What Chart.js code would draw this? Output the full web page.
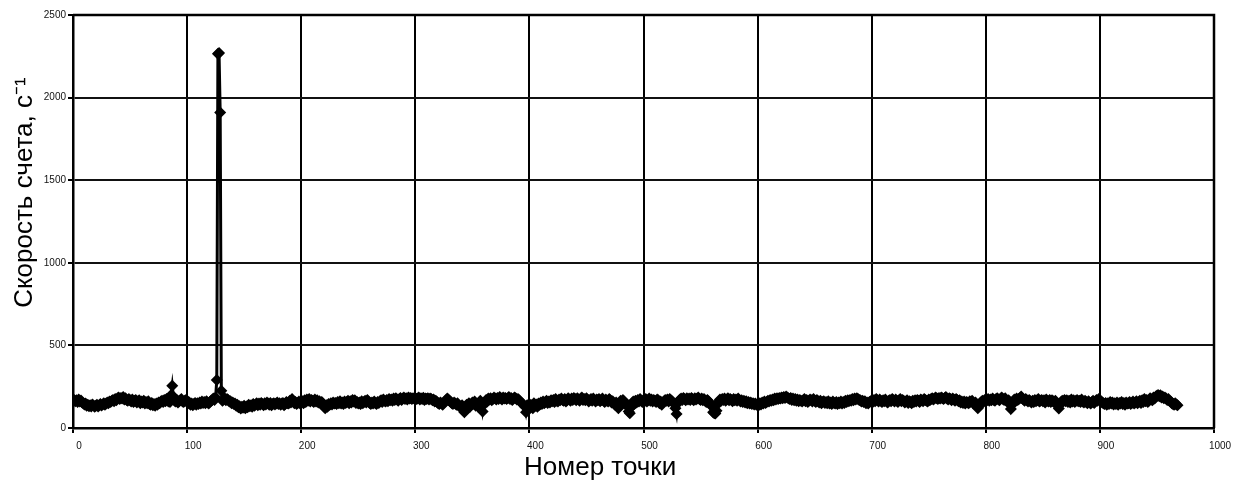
<!DOCTYPE html>
<html>
<head>
<meta charset="utf-8">
<script src="https://cdn.jsdelivr.net/npm/chart.js@4.4.1/dist/chart.umd.min.js"></script>
<style>
  html, body { margin: 0; padding: 0; background: #fff; }
  #wrap { width: 1249px; height: 488px; }
</style>
</head>
<body>
<div id="wrap"><canvas id="rateChart" width="1249" height="488"></canvas></div>
<script>
// count rate per point (point number = index)
let counts = [
    165,170,162,168,158,172,160,166,155,150, 142,148,135,140,132,138,130,142,136,128, // 0
    134,140,130,138,145,136,142,150,140,148, 155,150,160,158,165,170,162,175,168,180, // 20
    185,176,182,178,188,172,180,170,165,175, 168,160,172,158,165,170,155,162,168,150, // 40
    160,155,165,148,158,150,162,145,140,152, 138,145,135,148,140,155,150,160,165,158, // 60
    170,162,175,165,160,158,200,255,190,165, 160,170,155,162,168,175,160,158,165,170, // 80
    165,150,155,140,148,138,145,152,140,150, 145,155,148,160,152,158,150,162,155,148, // 100
    158,165,170,178,170,185,290,2265,2270,1910, 225,165,172,180,168,175,170,160,162,150, // 120
    155,145,148,135,140,125,132,118,128,122, 135,120,130,125,140,132,138,128,145,135, // 140
    142,150,138,148,140,152,145,138,150,142, 155,148,140,152,138,145,150,142,148,155, // 160
    145,150,140,148,152,138,145,158,150,148, 165,155,175,160,150,158,145,152,160,148, // 180
    155,162,150,168,158,172,165,175,160,170, 165,158,172,160,168,155,162,150,158,148, // 200
    130,120,138,128,145,140,150,142,155,148, 152,145,158,150,162,148,155,145,160,152, // 220
    158,165,150,162,155,170,160,168,152,158, 148,155,145,162,150,158,165,155,170,160, // 240
    152,145,155,148,160,150,145,158,152,162, 168,158,172,165,160,170,162,175,168,172, // 260
    165,178,170,180,172,165,175,182,170,178, 185,175,180,172,185,178,182,175,180,178, // 280
    182,175,178,185,172,180,176,183,170,178, 175,180,172,178,175,168,172,160,165,158, // 300
    150,145,155,148,140,152,160,170,178,172, 165,158,150,145,155,148,140,150,135,130, // 320
    128,138,120,95,125,140,132,150,128,140, 155,148,160,135,145,130,150,165,148,100, // 340
    140,155,170,160,178,172,180,168,175,185, 178,172,182,175,188,180,172,185,178,182, // 360
    175,180,188,176,182,170,178,185,180,172, 175,168,160,152,145,140,130,95,138,125, // 380
    145,130,138,120,150,135,142,128,148,140, 155,145,160,150,158,165,152,160,155,168, // 400
    162,170,158,175,165,160,172,168,178,170, 165,175,160,168,180,172,165,178,170,182, // 420
    175,168,180,172,165,178,185,170,175,168, 180,172,160,168,175,165,178,170,160,172, // 440
    168,175,162,170,178,165,158,172,165,160, 175,168,155,162,150,140,155,145,120,150, // 460
    165,155,170,160,150,145,130,100,90,125, 150,160,145,165,155,170,160,175,165,158, // 480
    170,162,175,160,168,178,165,172,160,170, 165,158,172,168,150,160,140,155,162,170, // 500
    165,172,160,175,168,162,155,145,120,85, 150,165,172,178,170,182,175,168,180,172, // 520
    178,170,182,175,168,180,172,178,185,175, 170,178,168,175,165,158,170,162,150,140, // 540
    130,95,90,88,105,145,160,172,165,175, 170,178,165,172,180,168,175,170,162,175, // 560
    168,172,165,178,170,160,168,158,165,155, 162,150,158,148,155,145,150,142,148,140, // 580
    145,138,150,142,155,148,160,152,158,165, 160,170,165,172,168,178,172,180,175,182, // 600
    178,185,180,188,182,190,185,180,175,182, 170,178,168,175,165,172,162,170,165,160, // 620
    168,175,162,170,158,165,172,168,160,175, 165,158,170,162,155,165,150,158,162,152, // 640
    158,150,162,148,155,145,160,152,148,158, 145,155,150,160,148,158,152,165,158,168, // 660
    162,170,165,175,168,178,172,180,175,170, 168,160,165,158,162,150,155,148,158,162, // 680
    165,158,170,162,175,168,160,172,165,158, 168,162,172,160,155,165,170,162,175,168, // 700
    160,172,165,158,168,175,162,170,165,155, 160,168,152,162,158,150,165,158,168,160, // 720
    170,165,158,172,168,162,175,170,165,160, 172,168,175,180,172,178,185,180,175,182, // 740
    178,185,180,175,182,188,178,172,180,175, 168,178,172,165,175,170,162,168,155,160, // 760
    152,160,148,158,155,150,162,158,165,150, 145,155,140,120,130,150,158,165,160,170, // 780
    162,168,175,165,172,168,178,170,165,175, 180,172,168,178,185,175,170,180,165,158, // 800
    168,150,115,140,160,172,165,178,170,175, 182,190,178,172,165,175,168,160,170,162, // 820
    155,165,158,170,162,168,175,160,165,170, 162,168,155,172,165,160,170,158,168,162, // 840
    155,165,150,140,118,145,158,165,160,170, 162,168,158,165,155,172,160,168,158,165, // 860
    170,162,165,158,172,160,155,165,158,150, 162,155,148,158,165,152,160,170,165,175, // 880
    168,160,155,150,145,152,140,150,145,158, 148,155,142,150,145,155,140,152,148,158, // 900
    145,152,140,155,148,150,158,145,152,160, 148,155,162,150,158,165,152,168,158,175, // 920
    162,170,158,165,180,172,168,185,178,190, 195,200,192,198,185,190,180,185,178,170, // 940
    175,165,160,150,145,140,150,142,138 // 960
];

let xTicks = [0, 100, 200, 300, 400, 500, 600, 700, 800, 900, 1000];
let yTicks = [0, 500, 1000, 1500, 2000, 2500];

let points = counts.map((v, i) => ({x: i, y: v}));

let tickFont = {family: 'Liberation Sans', size: 10};
let titleFont = {family: 'Liberation Sans', size: 26};

new Chart(document.getElementById('rateChart'), {
    type: 'line',
    data: {
        datasets: [
            {
                data: points,
                borderColor: '#000',
                backgroundColor: '#000',
                borderWidth: 3,
                pointStyle: 'rectRot',
                pointRadius: 6,
                pointBorderWidth: 0,
                pointBackgroundColor: '#000',
                tension: 0
            }
        ]
    },
    options: {
        responsive: false,
        animation: false,
        layout: {padding: {left: 0, top: 15, right: 35, bottom: 0}},
        plugins: {
            legend: {display: false},
            tooltip: {enabled: false}
        },
        scales: {
            x: {
                type: 'linear',
                min: 0,
                max: 1000,
                afterBuildTicks: (s) => { s.ticks = xTicks.map(v => ({value: v})); },
                afterFit: (s) => { s.height = 60; },
                grid: {color: '#000', lineWidth: 2, tickLength: 5, tickColor: '#000', tickWidth: 2},
                border: {color: '#000', width: 2.5},
                ticks: {color: '#111', font: tickFont, padding: 7, labelOffset: 6, maxRotation: 0,
                        callback: (v) => String(v)},
                // trailing spaces push the title left like in the original
                title: {display: true, text: 'Номер точки' + ' '.repeat(12), color: '#000', font: titleFont,
                        padding: {top: 0, bottom: 5}}
            },
            y: {
                min: 0,
                max: 2500,
                afterBuildTicks: (s) => { s.ticks = yTicks.map(v => ({value: v})); },
                afterFit: (s) => { s.width = 73; },
                grid: {color: '#111', lineWidth: 2, tickLength: 5, tickColor: '#000', tickWidth: 2},
                border: {color: '#000', width: 2.5},
                ticks: {color: '#111', font: tickFont, padding: 2, callback: (v) => String(v)},
                title: {display: true, text: ' '.repeat(8) + 'Скорость счета, с⁻¹', color: '#000', font: titleFont,
                        padding: {top: 9, bottom: 0}}
            }
        }
    },
    plugins: [{
        // close the frame on top and right like the original
        id: 'frame',
        afterDraw(chart) {
            let a = chart.chartArea, c = chart.ctx;
            c.save();
            c.strokeStyle = '#000';
            c.lineWidth = 2.5;
            c.beginPath();
            c.moveTo(a.left, a.top);
            c.lineTo(a.right, a.top);
            c.lineTo(a.right, a.bottom);
            c.stroke();
            c.restore();
        }
    }]
});
</script>
</body>
</html>
